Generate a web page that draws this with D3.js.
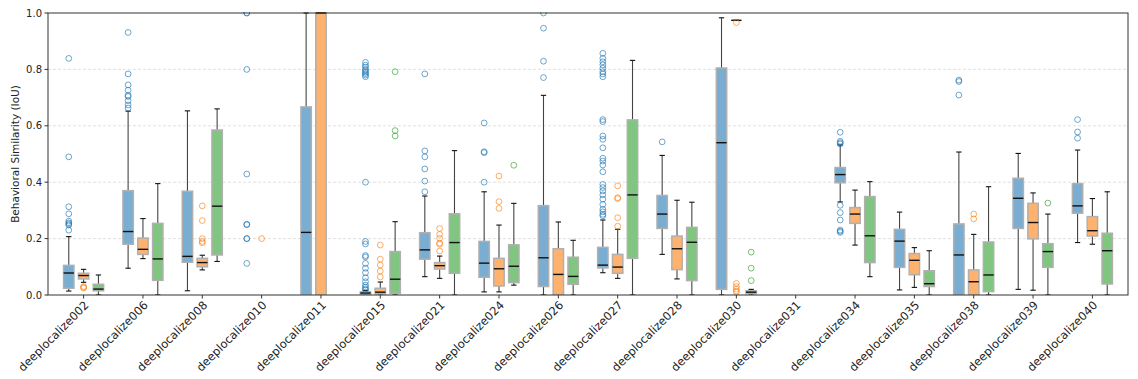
<!DOCTYPE html>
<html><head><meta charset="utf-8">
<script src="https://cdn.jsdelivr.net/npm/d3@7"></script>
<style>body{margin:0;background:#fff}svg{display:block;font-family:"DejaVu Sans",sans-serif}</style>
</head><body><svg id="c" width="1138" height="379"></svg>
<script>
const categories = ["deeplocalize002","deeplocalize006","deeplocalize008","deeplocalize010","deeplocalize011","deeplocalize015","deeplocalize021","deeplocalize024","deeplocalize026","deeplocalize027","deeplocalize028","deeplocalize030","deeplocalize031","deeplocalize034","deeplocalize035","deeplocalize038","deeplocalize039","deeplocalize040"];
const yTicks = [0, 0.2, 0.4, 0.6, 0.8, 1.0];
const seriesNames = ["blue","orange","green"];
const seriesColors = ["#1f77b4","#ff7f0e","#2ca02c"];
// [whiskerLow, q1, median, q3, whiskerHigh]
const blueStats = [
 [0.014,0.024,0.078,0.105,0.207],[0.095,0.18,0.225,0.37,0.652],[0.015,0.116,0.137,0.368,0.653],
 [0,0,0,0,0],[0,0,0.222,0.667,1.0],[0,0.003,0.007,0.011,0.016],
 [0.065,0.127,0.16,0.221,0.351],[0.011,0.063,0.113,0.19,0.366],[0,0.03,0.132,0.317,0.708],
 [0.079,0.096,0.106,0.169,0.266],[0.144,0.236,0.287,0.353,0.495],[0,0.02,0.54,0.805,0.983],
 [0,0,0,0,0],[0.33,0.398,0.427,0.452,0.532],[0.018,0.098,0.191,0.233,0.294],
 [0,0,0.142,0.252,0.507],[0.02,0.236,0.343,0.414,0.502],[0.186,0.29,0.316,0.395,0.514]
];
const blueFliers = [
 [0.839,0.49,0.313,0.288,0.262,0.256,0.252,0.248,0.23],
 [0.931,0.784,0.745,0.726,0.708,0.704,0.689,0.674,0.663],
 [],
 [1.0,1.0,0.8,0.429,0.251,0.249,0.2,0.2,0.112],
 [],
 [0.825,0.815,0.808,0.80,0.795,0.79,0.785,0.78,0.774,0.4,0.19,0.181,0.14,0.135,0.112,0.095,0.079,0.061,0.047,0.035,0.028,0.022,0.018],
 [0.784,0.511,0.49,0.447,0.404,0.366],
 [0.61,0.508,0.505,0.4],
 [1.0,0.946,0.829,0.771],
 [0.857,0.839,0.827,0.816,0.804,0.792,0.784,0.774,0.622,0.615,0.564,0.552,0.522,0.485,0.475,0.461,0.437,0.392,0.381,0.369,0.355,0.34,0.321,0.304,0.295,0.286,0.281],
 [0.543],
 [],
 [],
 [0.577,0.545,0.54,0.536,0.318,0.292,0.266,0.23,0.226,0.222],
 [],
 [0.762,0.757,0.709],
 [],
 [0.622,0.578,0.556]
];
const orangeStats = [
 [0.045,0.057,0.069,0.077,0.091],[0.129,0.144,0.162,0.202,0.271],[0.089,0.1,0.115,0.13,0.141],
 [0,0,0,0,0],[0,0,1.0,1.0,1.0],[0,0.004,0.01,0.024,0.046],
 [0.059,0.092,0.104,0.115,0.138],[0.011,0.032,0.093,0.13,0.248],[0,0,0.073,0.164,0.259],
 [0.059,0.077,0.099,0.144,0.233],[0.057,0.09,0.164,0.209,0.336],[0.974,0.974,0.974,0.974,0.974],
 [0,0,0,0,0],[0.177,0.254,0.287,0.31,0.372],[0.027,0.072,0.123,0.147,0.168],
 [0,0,0.047,0.089,0.215],[0.017,0.199,0.257,0.325,0.362],[0.18,0.209,0.228,0.278,0.342]
];
const orangeFliers = [
 [0.03,0.027,0.025],[],[0.316,0.264,0.2,0.19,0.185],[0.2],[],[0.177,0.127,0.106,0.085,0.064],
 [0.236,0.215,0.201,0.184,0.18,0.156],[0.422,0.331,0.307],[],[0.387,0.345,0.342,0.274,0.244],[],
 [0.966,0.041,0.03,0.021,0.014,0.01],[],[],[],[0.287,0.27],[],[]
];
const greenStats = [
 [0,0.015,0.021,0.038,0.071],[0,0.052,0.128,0.254,0.395],[0.119,0.142,0.315,0.585,0.66],
 [0,0,0,0,0],[0,0,0,0,0],[0,0.006,0.056,0.154,0.26],
 [0,0.077,0.186,0.288,0.512],[0.035,0.044,0.102,0.178,0.325],[0,0.038,0.066,0.134,0.194],
 [0,0.13,0.355,0.621,0.832],[0,0.051,0.187,0.24,0.329],[0,0.005,0.01,0.015,0.02],
 [0,0,0,0,0],[0.065,0.115,0.21,0.349,0.402],[0,0.03,0.04,0.086,0.157],
 [0,0.012,0.071,0.188,0.384],[0,0.098,0.154,0.182,0.287],[0,0.039,0.157,0.219,0.366]
];
const greenFliers = [
 [],[],[],[],[],[0.792,0.583,0.564],[],[0.46],[],[],[],[0.152,0.095,0.051],[],[],[],[],[0.326],[]
];

const allStats = [blueStats, orangeStats, greenStats];
const allFliers = [blueFliers, orangeFliers, greenFliers];

const svg = d3.select("#c");
const L = 48, R = 1128, T = 13, B = 295;
const x = d3.scaleLinear().domain([-0.6, categories.length - 0.4]).range([L, R]);
const y = d3.scaleLinear().domain([0, 1]).range([B, T]);
const offsets = [-0.25, 0, 0.25];
const boxW = 0.175, capW = 0.09;

svg.append("defs").append("clipPath").attr("id","clip")
  .append("rect").attr("x",L).attr("y",T-1).attr("width",R-L).attr("height",B-T+1);

// grid
svg.append("g").selectAll("line").data(yTicks.filter(d=>d>0 && d<1)).join("line")
  .attr("x1",L).attr("x2",R).attr("y1",d=>y(d)).attr("y2",d=>y(d))
  .attr("stroke","#d9d9d9").attr("stroke-width",0.8).attr("stroke-dasharray","3,2");

const plot = svg.append("g").attr("clip-path","url(#clip)");

allStats.forEach((stats, s) => {
  const col = seriesColors[s];
  const fill = d3.interpolateRgb("#ffffff", col)(0.6);
  const g = plot.append("g").attr("class","series-"+seriesNames[s]);
  stats.forEach((st, i) => {
    const cx = x(i + offsets[s]);
    const [lo,q1,med,q3,hi] = st;
    const bx = x(i + offsets[s] - boxW/2), bw = x(i + offsets[s] + boxW/2) - bx;
    const cw = x(capW) - x(0);
    const flat = (q3 - q1) === 0 && hi === lo;
    // whiskers
    g.append("line").attr("x1",cx).attr("x2",cx).attr("y1",y(q3)).attr("y2",y(hi))
      .attr("stroke","#444").attr("stroke-width",1.1);
    g.append("line").attr("x1",cx).attr("x2",cx).attr("y1",y(q1)).attr("y2",y(lo))
      .attr("stroke","#444").attr("stroke-width",1.1);
    // caps
    if (!flat || lo > 0) [lo,hi].forEach(v => g.append("line").attr("x1",cx-cw/2).attr("x2",cx+cw/2)
      .attr("y1",y(v)).attr("y2",y(v)).attr("stroke","#111").attr("stroke-width",1.1));
    // box
    g.append("rect").attr("x",bx).attr("width",bw).attr("y",y(q3) - (flat && q3===0 ? 0.8 : 0)).attr("height",Math.max(0,y(q1)-y(q3)))
      .attr("fill",fill).attr("stroke","#b0b0b0").attr("stroke-width",1.5);
    // median
    if (!(flat && med === 0))
      g.append("line").attr("x1",bx).attr("x2",bx+bw).attr("y1",y(med)).attr("y2",y(med))
        .attr("stroke","#111").attr("stroke-width",1.4);
    // fliers
    g.selectAll(null).data(allFliers[s][i]).join("circle")
      .attr("cx",cx).attr("cy",d=>y(d)).attr("r",2.9)
      .attr("fill","none").attr("stroke",col).attr("stroke-opacity",0.65).attr("stroke-width",1);
  });
});

// spines
svg.append("rect").attr("x",L).attr("y",T).attr("width",R-L).attr("height",B-T)
  .attr("fill","none").attr("stroke","#333").attr("stroke-width",1);

// y axis
const ya = svg.append("g");
yTicks.forEach(t => {
  ya.append("line").attr("x1",L-3.5).attr("x2",L).attr("y1",y(t)).attr("y2",y(t)).attr("stroke","#333");
  ya.append("text").attr("x",L-6).attr("y",y(t)).attr("dy","0.35em").attr("text-anchor","end")
    .attr("font-size",10).attr("fill","#222").text(t.toFixed(1));
});
svg.append("text").attr("transform",`translate(19,${(T+B)/2}) rotate(-90)`).attr("text-anchor","middle")
  .attr("font-size",10.5).attr("fill","#222").text("Behavioral Similarity (IoU)");

// x axis
const xa = svg.append("g");
categories.forEach((c,i) => {
  const px = x(i);
  xa.append("line").attr("x1",px).attr("x2",px).attr("y1",B).attr("y2",B+3.5).attr("stroke","#333");
  xa.append("text").attr("transform",`translate(${px+3},${B+8}) rotate(-45)`)
    .attr("text-anchor","end").attr("dy","0.35em").attr("font-size",11.5).attr("fill","#222").text(c);
});
</script></body></html>
